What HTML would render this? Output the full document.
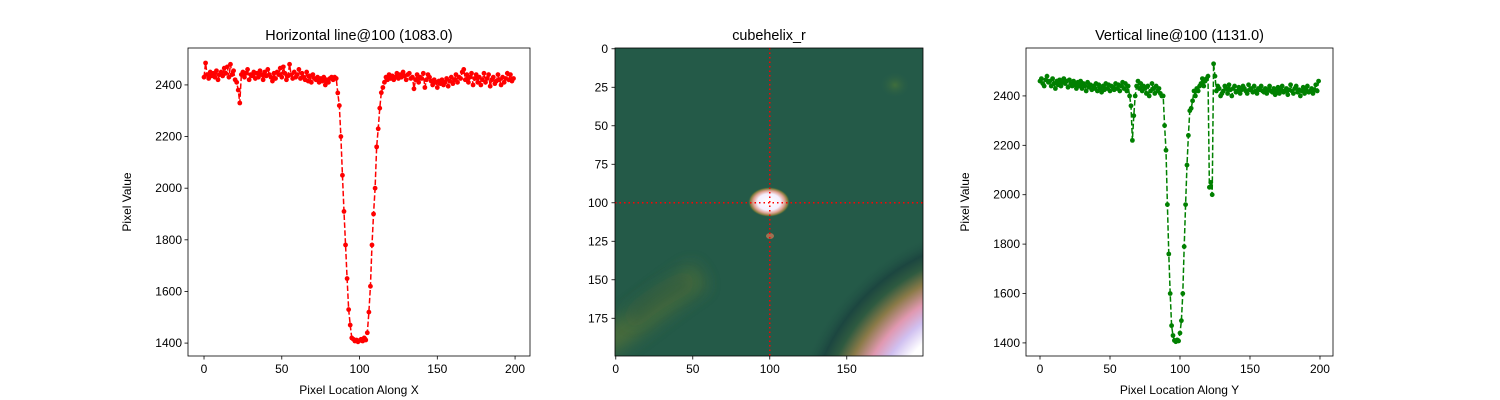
<!DOCTYPE html>
<html><head><meta charset="utf-8">
<style>
body{margin:0;background:#fff;}
svg{display:block;font-family:"Liberation Sans","DejaVu Sans",sans-serif;}
</style></head>
<body>
<svg id="chart" width="1500" height="400" xmlns="http://www.w3.org/2000/svg">
<defs>
<radialGradient id="spot" cx="0.5" cy="0.5" r="0.5">
<stop offset="0" stop-color="#ffffff"/><stop offset="0.55" stop-color="#f4f0ff"/><stop offset="0.75" stop-color="#e0a090"/><stop offset="0.9" stop-color="#7a7a3a"/><stop offset="1" stop-color="#245a48" stop-opacity="0"/>
</radialGradient>
<radialGradient id="corner" gradientUnits="userSpaceOnUse" cx="1010" cy="440" r="240">
<stop offset="0" stop-color="#ffffff"/><stop offset="0.54" stop-color="#ffffff"/><stop offset="0.61" stop-color="#d0c0f0"/><stop offset="0.67" stop-color="#e098b0"/><stop offset="0.74" stop-color="#8a7a48"/><stop offset="0.8" stop-color="#2e5a40"/><stop offset="0.85" stop-color="#1c4640"/><stop offset="0.92" stop-color="#245a48" stop-opacity="0"/>
</radialGradient>
<radialGradient id="blob" cx="0.5" cy="0.5" r="0.5">
<stop offset="0" stop-color="#3f6e3c"/><stop offset="1" stop-color="#245a48" stop-opacity="0"/>
</radialGradient>
<clipPath id="imgclip"><rect x="615" y="48" width="308" height="308"/></clipPath>
<filter id="blur" x="-50%" y="-50%" width="200%" height="200%"><feGaussianBlur stdDeviation="8"/></filter>
</defs>
<g id="left"></g>
<g id="mid">
<g clip-path="url(#imgclip)">
<rect x="615" y="48" width="308" height="308" fill="#245a48"/>
<ellipse cx="895" cy="85" rx="16" ry="14" fill="url(#blob)"/>
<path d="M600,345 C630,330 660,300 700,275" stroke="#4e6e3a" stroke-width="26" fill="none" opacity="0.9" filter="url(#blur)"/>
<path d="M630,320 C650,300 670,290 690,280" stroke="#1c4a42" stroke-width="10" fill="none" opacity="0.6" filter="url(#blur)"/>
<rect x="615" y="48" width="308" height="308" fill="url(#corner)"/>
<ellipse cx="769" cy="202" rx="21" ry="15" fill="url(#spot)"/>
<ellipse cx="770" cy="236" rx="4" ry="3" fill="#a07050"/>
</g>
</g>
<g id="right"></g>
</svg>
<script>
const leftValues=[2430,2485,2440,2425,2450,2435,2445,2430,2455,2420,2440,2450,2435,2465,2445,2470,2430,2480,2440,2455,2420,2410,2380,2330,2440,2450,2430,2445,2460,2420,
2440,2435,2450,2425,2445,2430,2455,2440,2420,2450,2435,2460,2440,2430,2415,2445,2425,2450,2440,2465,2430,2470,2445,2420,2435,2480,2440,2425,2450,2430,
2440,2460,2425,2445,2430,2420,2450,2415,2435,2410,2440,2425,2420,2430,2410,2425,2415,2430,2400,2420,2410,2425,2430,2420,2430,2425,
2369,2320,2200,2050,1910,1780,1650,1530,1470,1420,1415,1408,1412,1405,1410,1415,1408,1420,1412,1440,1520,1620,1780,1900,2000,2160,2230,2310,2370,2390,2410,
2430,2420,2440,2425,2435,2420,2430,2445,2425,2440,2430,2450,2435,2420,2440,2445,2425,2430,2385,2420,2440,2410,2430,2425,2445,2390,2420,2440,2430,2415,
2400,2420,2410,2390,2415,2405,2420,2400,2410,2425,2395,2415,2430,2405,2420,2440,2410,2430,2425,2450,2460,2420,2440,2410,2430,2445,2400,2425,2440,2410,
2430,2400,2420,2445,2410,2425,2440,2395,2420,2430,2405,2415,2440,2420,2400,2430,2410,2425,2445,2420,2440,2415,2425];
const rightValues=[2460,2470,2450,2440,2465,2480,2455,2460,2440,2470,2450,2430,2460,2445,2465,2440,2455,2470,2450,2460,2435,2465,2450,2440,2460,2445,2430,2455,2440,2460,
2430,2450,2440,2420,2455,2435,2445,2425,2440,2430,2450,2420,2445,2430,2415,2440,2425,2450,2430,2445,2420,2440,2435,2425,2450,2430,2445,2420,2440,2455,
2430,2450,2420,2440,2400,2360,2220,2320,2400,2440,2460,2430,2450,2420,2440,2430,2410,2440,2400,2420,2450,2430,2410,2440,2420,2430,2410,2400,
2400,2280,2180,1960,1760,1600,1470,1430,1410,1405,1412,1408,1440,1490,1600,1790,1960,2120,2240,2340,2350,2380,2420,
2400,2430,2420,2440,2450,2470,2440,2460,2470,2480,2030,2050,2000,2530,2480,2420,2440,2430,2400,2410,
2420,2440,2430,2410,2445,2425,2400,2430,2440,2415,2420,2435,2410,2425,2440,2430,2420,2410,2445,2425,2430,2415,2440,2420,2410,2430,2425,2440,2420,2415,
2430,2410,2425,2440,2420,2415,2430,2405,2420,2435,2410,2425,2440,2415,2420,2430,2405,2425,2445,2420,2410,2430,2440,2415,2425,2400,2420,2435,2410,2425,2440,2415,2420,2430,2410,2425,2445,2420,2460];
const xTicks=[0,50,100,150,200];
const yTicks=[1400,1600,1800,2000,2200,2400];
const imgXTicks=[0,50,100,150];
const imgYTicks=[0,25,50,75,100,125,150,175];
const cursor=[100,100];
const NS="http://www.w3.org/2000/svg";
function mk(tag,attrs,parent,text){const e=document.createElementNS(NS,tag);for(const k in attrs)e.setAttribute(k,attrs[k]);if(text!==undefined)e.textContent=text;parent.appendChild(e);return e;}

function panel(g,vals,cfg){
  const sx=v=>cfg.x0+(v-cfg.xmin)/(cfg.xmax-cfg.xmin)*cfg.w;
  const sy=v=>cfg.y0+cfg.h-(v-cfg.ymin)/(cfg.ymax-cfg.ymin)*cfg.h;
  xTicks.forEach(t=>{const x=sx(t);
    const l=mk('line',{x1:x,x2:x,y1:cfg.y0+cfg.h,y2:cfg.y0+cfg.h+3.5,stroke:'#000','stroke-width':0.8},g);
    
    const tx=mk('text',{x:x,y:cfg.y0+cfg.h+17,'font-size':12,'text-anchor':'middle'},g,t);
    });
  yTicks.forEach(t=>{const y=sy(t);
    const l=mk('line',{x1:cfg.x0-3.5,x2:cfg.x0,y1:y,y2:y,stroke:'#000','stroke-width':0.8},g);
    
    const tx=mk('text',{x:cfg.x0-6,y:y+4,'font-size':12,'text-anchor':'end'},g,t);
    });
  const pts=vals.map((v,i)=>sx(i).toFixed(2)+','+sy(v).toFixed(2)).join(' ');
  const pl=mk('polyline',{points:pts,fill:'none',stroke:cfg.color,'stroke-width':1.5,'stroke-dasharray':'5.5,2.4'},g);
  
  vals.forEach((v,i)=>{const c=mk('circle',{cx:sx(i),cy:sy(v),r:2.4,fill:cfg.color},g);
    });
  const fr=mk('rect',{x:cfg.x0,y:cfg.y0,width:cfg.w,height:cfg.h,fill:'none',stroke:'#000','stroke-width':0.8},g);
  
  const ti=mk('text',{x:cfg.x0+cfg.w/2,y:40,'font-size':14.4,'text-anchor':'middle'},g,cfg.title);
  
  const xl=mk('text',{x:cfg.x0+cfg.w/2,y:394,'font-size':12,'text-anchor':'middle'},g,cfg.xlabel);
  
  const yl=mk('text',{x:0,y:0,'font-size':12,'text-anchor':'middle',transform:`translate(${cfg.x0-57},${cfg.y0+cfg.h/2}) rotate(-90)`},g,'Pixel Value');
  
}
panel(document.getElementById('left'),leftValues,{x0:188,y0:48,w:342,h:308,xmin:-10.3,xmax:209.6,ymin:1350,ymax:2543,color:'#ff0000',title:'Horizontal line@100 (1083.0)',xlabel:'Pixel Location Along X'});
panel(document.getElementById('right'),rightValues,{x0:1026,y0:48,w:307,h:308,xmin:-10,xmax:209.3,ymin:1347,ymax:2594,color:'#008000',title:'Vertical line@100 (1131.0)',xlabel:'Pixel Location Along Y'});

const mg=document.getElementById('mid');
const ix=v=>615+(v+0.5)*1.54, iy=v=>48+(v+0.5)*1.54;
const hl=mk('line',{x1:615,x2:923,y1:iy(cursor[1]),y2:iy(cursor[1]),stroke:'#ff0000','stroke-width':1.5,'stroke-dasharray':'1.5,3'},mg);

const vl=mk('line',{x1:ix(cursor[0]),x2:ix(cursor[0]),y1:48,y2:356,stroke:'#ff0000','stroke-width':1.5,'stroke-dasharray':'1.5,3'},mg);

imgXTicks.forEach(t=>{const x=ix(t);
  const l=mk('line',{x1:x,x2:x,y1:356,y2:359.5,stroke:'#000','stroke-width':0.8},mg);
  
  const tx=mk('text',{x:x,y:373,'font-size':12,'text-anchor':'middle'},mg,t);
  });
imgYTicks.forEach(t=>{const y=iy(t);
  const l=mk('line',{x1:611.5,x2:615,y1:y,y2:y,stroke:'#000','stroke-width':0.8},mg);
  
  const tx=mk('text',{x:608,y:y+4,'font-size':12,'text-anchor':'end'},mg,t);
  });
const mf=mk('rect',{x:615,y:48,width:308,height:308,fill:'none',stroke:'#000','stroke-width':0.8},mg);

const mt=mk('text',{x:769,y:40,'font-size':14.4,'text-anchor':'middle'},mg,'cubehelix_r');

</script>
</body></html>
